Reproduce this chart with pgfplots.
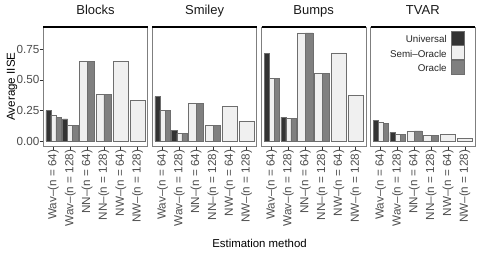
\documentclass[border=0pt]{standalone}
\usepackage{fontspec}
\setmainfont{Liberation Sans}
\usepackage{pgfplots}
\pgfplotsset{compat=1.18}
\definecolor{cU}{HTML}{333333}
\definecolor{cS}{HTML}{F0F0F0}
\definecolor{cO}{HTML}{808080}
\definecolor{edge}{HTML}{6E6E6E}
\definecolor{grey30}{HTML}{4D4D4D}
\definecolor{grey50}{HTML}{7F7F7F}
\definecolor{grey20}{HTML}{333333}

\pgfplotsset{
 panel/.style={
  scale only axis, width=104.4bp, height=119bp,
  xmin=0.4, xmax=6.6, ymin=-0.041, ymax=0.932,
  axis line style={draw=grey50, line width=0.7bp},
  xtick={1,...,6},
  xticklabels={Wav--(n = 64), Wav--(n = 128), NN--(n = 64), NN--(n = 128), NW--(n = 64), NW--(n = 128)},
  xticklabel style={rotate=90, anchor=east, inner sep=0pt, font=\fontsize{11.7bp}{13bp}\selectfont, text=grey30},
  yticklabel style={anchor=east, inner sep=0pt, font=\fontsize{11.7bp}{13bp}\selectfont, text=grey30},
  tick align=outside, xtick pos=bottom, ytick pos=left,
  major tick length=3.6bp,
  tick style={draw=grey20, line width=0.6bp},
  title style={at={(0.5,1)}, anchor=base, yshift=6.3bp, inner sep=0pt, font=\fontsize{13bp}{15bp}\selectfont, text=black!90},
  ytick=\empty,
  after end axis/.code={\draw[black, line width=1.1bp] (rel axis cs:0,1) -- (rel axis cs:1,1);},
  every axis plot/.append style={draw=edge, line width=0.6bp},
 },
 U/.style={ybar, bar width=0.3, bar shift=-0.3, fill=cU,
   legend image code/.code={\draw[draw=edge,line width=0.6bp,fill=cU] (0bp,-5bp) rectangle (13.7bp,8.8bp);}},
 SW/.style={ybar, bar width=0.3, bar shift=0, fill=cS,
   legend image code/.code={\draw[draw=edge,line width=0.6bp,fill=cS] (0bp,-5bp) rectangle (13.7bp,8.8bp);}},
 OW/.style={ybar, bar width=0.3, bar shift=0.3, fill=cO,
   legend image code/.code={\draw[draw=edge,line width=0.6bp,fill=cO] (0bp,-5bp) rectangle (13.7bp,8.8bp);}},
 SN/.style={ybar, bar width=0.45, bar shift=-0.225, fill=cS},
 ON/.style={ybar, bar width=0.45, bar shift=0.225, fill=cO},
 SV/.style={ybar, bar width=0.9, bar shift=0, fill=cS},
}

\begin{document}
\begin{tikzpicture}
\useasboundingbox (0bp,-109bp) rectangle (480bp,146bp);

% Blocks
\begin{axis}[panel, at={(43.3bp,0bp)}, anchor=south west, title=Blocks,
  ytick={0,0.25,0.5,0.75}, yticklabels={0.00,0.25,0.50,0.75},
  ylabel={Average IISE},
  every axis y label/.style={at={(axis description cs:-0.2711,0.5)}, rotate=90, anchor=base, inner sep=0pt, font=\fontsize{11.6bp}{13bp}\selectfont}]
\addplot[U] coordinates {(1,0.248) (2,0.180)};
\addplot[SW] coordinates {(1,0.212) (2,0.128)};
\addplot[OW] coordinates {(1,0.193) (2,0.128)};
\addplot[SN] coordinates {(3,0.650) (4,0.384)};
\addplot[ON] coordinates {(3,0.650) (4,0.384)};
\addplot[SV] coordinates {(5,0.650) (6,0.332)};
\end{axis}

% Smiley
\begin{axis}[panel, at={(152.4bp,0bp)}, anchor=south west, title=Smiley]
\addplot[U] coordinates {(1,0.362) (2,0.087)};
\addplot[SW] coordinates {(1,0.250) (2,0.065)};
\addplot[OW] coordinates {(1,0.250) (2,0.065)};
\addplot[SN] coordinates {(3,0.310) (4,0.130)};
\addplot[ON] coordinates {(3,0.310) (4,0.130)};
\addplot[SV] coordinates {(5,0.283) (6,0.158)};
\end{axis}

% Bumps
\begin{axis}[panel, at={(261.5bp,0bp)}, anchor=south west, title=Bumps]
\addplot[U] coordinates {(1,0.716) (2,0.196)};
\addplot[SW] coordinates {(1,0.512) (2,0.185)};
\addplot[OW] coordinates {(1,0.512) (2,0.185)};
\addplot[SN] coordinates {(3,0.884) (4,0.553)};
\addplot[ON] coordinates {(3,0.884) (4,0.553)};
\addplot[SV] coordinates {(5,0.721) (6,0.373)};
\end{axis}

% TVAR
\begin{axis}[panel, at={(370.6bp,0bp)}, anchor=south west, title=TVAR,
  legend style={at={(0.9042,0.9664)}, anchor=north east, draw=none, fill=none,
    inner sep=0pt, outer sep=0pt, row sep=0pt, column sep=4bp,
    font=\fontsize{9.8bp}{11bp}\selectfont, text=black!85,
    nodes={inner sep=0pt}},
  legend cell align=right, legend plot pos=right]
\addplot[U] coordinates {(1,0.171) (2,0.071)};
\addplot[SW] coordinates {(1,0.155) (2,0.055)};
\addplot[OW] coordinates {(1,0.144) (2,0.055)};
\addplot[SN, forget plot] coordinates {(3,0.082) (4,0.046)};
\addplot[ON, forget plot] coordinates {(3,0.082) (4,0.046)};
\addplot[SV, forget plot] coordinates {(5,0.057) (6,0.022)};
\legend{Universal, Semi--Oracle, Oracle}
\end{axis}

\node[anchor=base, font=\fontsize{11.4bp}{13bp}\selectfont] at (259.5bp,-101.7bp) {Estimation method};
\end{tikzpicture}
\end{document}
